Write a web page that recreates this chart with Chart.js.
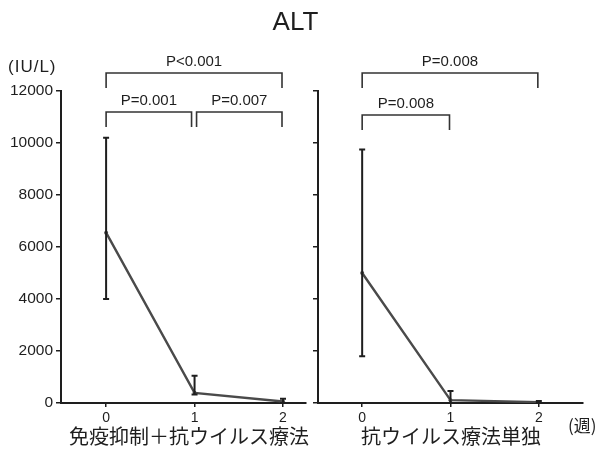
<!DOCTYPE html>
<html>
<head>
<meta charset="utf-8">
<script src="https://cdn.jsdelivr.net/npm/chart.js@4/dist/chart.umd.min.js"></script>
<style>
  body { margin: 0; background: #fff; }
  #wrap { position: relative; width: 607px; height: 453px; overflow: hidden;
          font-family: "Liberation Sans", Arial, sans-serif; color: #1e1e1e; }
  canvas { position: absolute; top: 0; }
  #cA { left: 0; }
  #cB { left: 300px; }
  .t { position: absolute; white-space: nowrap; line-height: 1; }
  #title { left: -8px; width: 607px; top: 8px; text-align: center; font-size: 26px; }
  #unit { left: 8px; top: 58px; font-size: 17px; letter-spacing: 1px; }
  #week { left: 568px; top: 416px; font-size: 17px; font-family: "Noto Sans CJK JP", sans-serif; }
  .cat { top: 426px; font-size: 20px; font-family: "Noto Sans CJK JP", sans-serif; text-align: center; }
  #catA { left: 59px; width: 260px; }
  #catB { left: 320px; width: 262px; }
</style>
</head>
<body>
<div id="wrap">
  <canvas id="cA" width="310" height="453" style="width:310px;height:453px"></canvas>
  <canvas id="cB" width="307" height="453" style="width:307px;height:453px"></canvas>
  <div class="t" id="title">ALT</div>
  <div class="t" id="unit">(IU/L)</div>
  <div class="t" id="week">(週)</div>
  <div class="t cat" id="catA">免疫抑制＋抗ウイルス療法</div>
  <div class="t cat" id="catB">抗ウイルス療法単独</div>
</div>
<script>
// Weeks after treatment start
const weeks = [0, 1, 2];

// Immunosuppression + antiviral therapy: mean ALT and error range (IU/L)
const comboMean  = [6550, 390, 60];
const comboUpper = [10200, 1050, 160];
const comboLower = [4000, 330, 0];

// Antiviral therapy alone
const monoMean  = [5000, 110, 35];
const monoUpper = [9750, 460, 80];
const monoLower = [1800, 0, 0];

// Pairwise comparisons: [from week, to week], label, bracket row (0 = upper row)
const comboPairs  = [[0, 1], [1, 2], [0, 2]];
const comboPText  = ['P=0.001', 'P=0.007', 'P<0.001'];
const comboPRow   = [1, 1, 0];
const monoPairs   = [[0, 1], [0, 2]];
const monoPText   = ['P=0.008', 'P=0.008'];
const monoPRow    = [1, 0];

const yTicks = [0, 2000, 4000, 6000, 8000, 10000, 12000];
const LINE = '#4a4a4a';
const INK = '#1e1e1e';

// Vertical error bars with small caps
const errorBars = {
  id: 'errorBars',
  afterDatasetsDraw(chart, args, opts) {
    const { ctx, scales: { x, y } } = chart;
    ctx.save();
    ctx.strokeStyle = INK;
    ctx.lineWidth = 2;
    opts.upper.forEach((u, i) => {
      const px = x.getPixelForValue(weeks[i]);
      const pt = y.getPixelForValue(u);
      const pb = y.getPixelForValue(opts.lower[i]);
      ctx.beginPath();
      ctx.moveTo(px, pt); ctx.lineTo(px, pb);
      ctx.moveTo(px - 3, pt); ctx.lineTo(px + 3, pt);
      ctx.moveTo(px - 3, pb); ctx.lineTo(px + 3, pb);
      ctx.stroke();
    });
    ctx.restore();
  }
};

// Significance brackets drawn above the plot area
const brackets = {
  id: 'brackets',
  afterDraw(chart, args, opts) {
    const { ctx, scales: { x } } = chart;
    const rowY = opts.rowY;
    ctx.save();
    ctx.strokeStyle = '#333';
    ctx.lineWidth = 1.6;
    ctx.fillStyle = INK;
    ctx.font = '15px "Liberation Sans", Arial, sans-serif';
    ctx.textAlign = 'center';
    ctx.textBaseline = 'alphabetic';
    opts.pairs.forEach((p, i) => {
      const row = opts.rows[i];
      const shared = (v) => opts.pairs.some((q, j) => j !== i && opts.rows[j] === row && (q[0] === v || q[1] === v));
      let x0 = x.getPixelForValue(p[0]);
      let x1 = x.getPixelForValue(p[1]) - 1;
      if (shared(p[0])) x0 += 2;
      if (shared(p[1])) x1 -= 2;
      const yy = rowY[row];
      ctx.beginPath();
      ctx.moveTo(x0, yy + 15); ctx.lineTo(x0, yy); ctx.lineTo(x1, yy); ctx.lineTo(x1, yy + 15);
      ctx.stroke();
      ctx.fillText(opts.labels[i], (x0 + x1) / 2, yy - 7);
    });
    ctx.restore();
  }
};

function makeChart(id, mean, upper, lower, pairs, labels, rows, xmin, xmax, yWidth, padRight, showY, rowY) {
  return new Chart(document.getElementById(id), {
    type: 'line',
    data: {
      datasets: [{
        data: weeks.map((w, i) => ({ x: w, y: mean[i] })),
        borderColor: LINE,
        borderWidth: 2.4,
        pointRadius: 2,
        pointBackgroundColor: LINE,
        pointBorderWidth: 0,
        tension: 0
      }]
    },
    options: {
      responsive: false,
      animation: false,
      events: [],
      layout: { padding: { top: 91, bottom: 0, left: 0, right: padRight } },
      plugins: {
        legend: { display: false },
        tooltip: { enabled: false },
        errorBars: { upper, lower },
        brackets: { pairs, labels, rows, rowY }
      },
      scales: {
        x: {
          type: 'linear', min: xmin, max: xmax,
          afterBuildTicks: (s) => { s.ticks = weeks.map(v => ({ value: v })); },
          afterFit: (s) => { s.height = 50; },
          border: { color: INK, width: 2 },
          grid: { drawOnChartArea: false, drawTicks: true, tickLength: 4, color: INK, lineWidth: 1.5 },
          ticks: { color: INK, font: { size: 14, family: '"Liberation Sans", Arial, sans-serif' }, padding: 3 }
        },
        y: {
          min: 0, max: 12000,
          afterBuildTicks: (s) => { s.ticks = yTicks.map(v => ({ value: v })); },
          afterFit: (s) => { s.width = yWidth; },
          border: { color: INK, width: 2 },
          grid: { drawOnChartArea: false, drawTicks: true, tickLength: 5, color: INK, lineWidth: 1.5 },
          ticks: {
            color: INK, padding: 3,
            font: { size: 15.5, family: '"Liberation Sans", Arial, sans-serif' },
            callback: (v) => showY ? String(v) : ''
          }
        }
      }
    },
    plugins: [errorBars, brackets]
  });
}

makeChart('cA', comboMean, comboUpper, comboLower, comboPairs, comboPText, comboPRow,
          -0.51, 2.26, 61, 0, true, [73, 112]);
makeChart('cB', monoMean, monoUpper, monoLower, monoPairs, monoPText, monoPRow,
          -0.5, 2.5, 18, 24, false, [73, 115]);
</script>
</body>
</html>
